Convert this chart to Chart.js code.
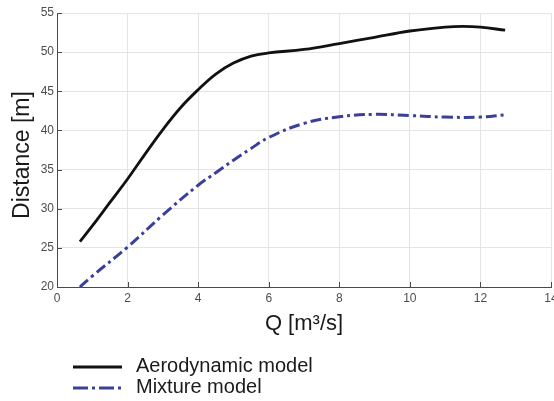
<!DOCTYPE html>
<html>
<head>
<meta charset="utf-8">
<script src="https://cdn.jsdelivr.net/npm/chart.js@4/dist/chart.umd.min.js"></script>
<style>
  html, body { margin: 0; padding: 0; background: #fff; }
  #wrap { width: 554px; height: 401px; position: relative; }
</style>
</head>
<body>
<div id="wrap"><canvas id="c" width="554" height="401"></canvas></div>
<script>
// ---- data ----
const qAero    = [0.65, 1, 1.5, 2, 2.5, 3, 3.5, 4, 4.5, 5, 5.5, 6, 7, 8, 9, 10, 11, 11.5, 12, 12.7];
const distAero = [25.8, 27.8, 30.8, 33.8, 37.0, 40.1, 42.9, 45.2, 47.2, 48.6, 49.5, 49.9, 50.35, 51.1, 51.9, 52.7, 53.2, 53.3, 53.2, 52.8];
const qMix     = [0.65, 1, 2, 3, 4, 4.5, 5, 5.5, 6, 7, 8, 9, 10, 11, 12, 12.7];
const distMix  = [20.0, 21.4, 25.1, 29.2, 33.0, 34.6, 36.2, 37.7, 39.1, 40.9, 41.75, 42.05, 41.9, 41.7, 41.7, 42.0];
const seriesNames = ['Aerodynamic model', 'Mixture model'];
const xTitle = 'Q [m³/s]';
const yTitle = 'Distance [m]';

const FONT = "'Liberation Sans', Arial, sans-serif";

const toXY = (xs, ys) => xs.map((x, i) => ({x: x, y: ys[i]}));

const innerTicks = {
  id: 'innerTicks',
  afterDatasetsDraw(chart) {
    const ctx = chart.ctx, ca = chart.chartArea;
    const xs = chart.scales.x, ys = chart.scales.y;
    ctx.save();
    ctx.strokeStyle = '#4a4a4a';
    ctx.lineWidth = 1;
    ctx.beginPath();
    xs.ticks.forEach(t => {
      const px = Math.round(xs.getPixelForValue(t.value)) + 0.5;
      ctx.moveTo(px, ca.bottom);
      ctx.lineTo(px, ca.bottom - 5);
    });
    ys.ticks.forEach(t => {
      const py = Math.round(ys.getPixelForValue(t.value)) + 0.5;
      ctx.moveTo(ca.left, py);
      ctx.lineTo(ca.left + 5, py);
    });
    ctx.stroke();
    ctx.restore();
  }
};

const yAxisTitle = {
  id: 'yAxisTitle',
  afterDraw(chart) {
    const ctx = chart.ctx, ca = chart.chartArea;
    ctx.save();
    ctx.translate(23, (ca.top + ca.bottom) / 2 + 5);
    ctx.rotate(-Math.PI / 2);
    ctx.fillStyle = '#1a1a1a';
    ctx.font = '23px ' + FONT;
    ctx.textAlign = 'center';
    ctx.textBaseline = 'middle';
    ctx.fillText(yTitle, 0, 0);
    ctx.restore();
  }
};

const customLegend = {
  id: 'customLegend',
  afterDraw(chart) {
    const ctx = chart.ctx;
    const rows = [367, 388];
    ctx.save();
    chart.data.datasets.forEach((ds, i) => {
      const y = rows[i];
      ctx.strokeStyle = ds.borderColor;
      ctx.lineWidth = ds.borderWidth;
      ctx.setLineDash(i === 1 ? [15, 4, 3, 4] : []);
      ctx.beginPath();
      ctx.moveTo(73, y);
      ctx.lineTo(122, y);
      ctx.stroke();
      ctx.setLineDash([]);
      ctx.fillStyle = '#1a1a1a';
      ctx.font = '20px ' + FONT;
      ctx.textBaseline = 'middle';
      ctx.textAlign = 'left';
      ctx.fillText(ds.label, 136, y - 1);
    });
    ctx.restore();
  }
};

new Chart(document.getElementById('c'), {
  type: 'line',
  data: {
    datasets: [
      {
        label: seriesNames[0],
        data: toXY(qAero, distAero),
        borderColor: '#111111',
        borderWidth: 2.8,
        pointRadius: 0,
        tension: 0.4,
        fill: false
      },
      {
        label: seriesNames[1],
        data: toXY(qMix, distMix),
        borderColor: '#3a3f9c',
        borderWidth: 3,
        borderDash: [11, 4, 3, 4],
        pointRadius: 0,
        tension: 0.4,
        fill: false
      }
    ]
  },
  options: {
    responsive: false,
    animation: false,
    layout: { autoPadding: false, padding: { top: 13, right: 3, bottom: 60, left: 0 } },
    plugins: { legend: { display: false }, tooltip: { enabled: false } },
    scales: {
      x: {
        type: 'linear', min: 0, max: 14,
        afterFit(s) { s.height = 54; s.paddingLeft = 0; s.paddingRight = 0; },
        ticks: { stepSize: 2, padding: 4, color: '#4d4d4d', font: { family: FONT, size: 12 } },
        grid: { color: '#e4e4e4', drawTicks: false },
        border: { display: true, color: '#4a4a4a', width: 1 },
        title: { display: true, text: xTitle, color: '#1a1a1a', padding: { top: 0, bottom: 4 }, font: { family: FONT, size: 22 } }
      },
      y: {
        type: 'linear', min: 20, max: 55,
        afterFit(s) { s.width = 57; s.paddingTop = 0; s.paddingBottom = 0; },
        ticks: { stepSize: 5, padding: 3, color: '#4d4d4d', font: { family: FONT, size: 12 } },
        grid: { color: '#e4e4e4', drawTicks: false },
        border: { display: true, color: '#4a4a4a', width: 1 },
        title: { display: false }
      }
    }
  },
  plugins: [innerTicks, yAxisTitle, customLegend]
});
</script>
</body>
</html>
